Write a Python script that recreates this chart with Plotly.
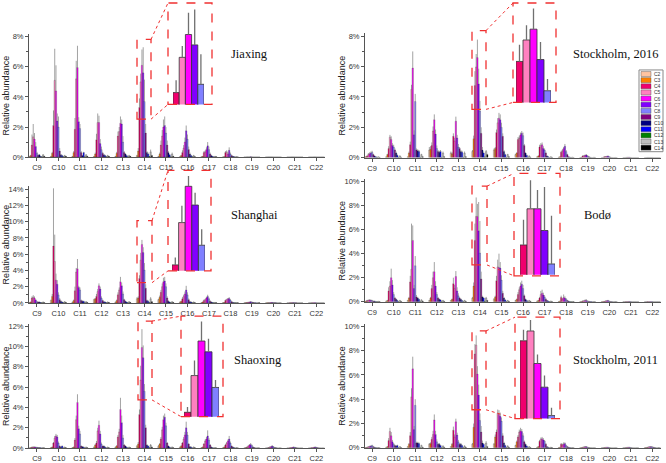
import plotly.graph_objects as go

CATEGORIES = ["C9", "C10", "C11", "C12", "C13", "C14", "C15", "C16", "C17", "C18", "C19", "C20", "C21", "C22"]
SERIES = ["C2", "C3", "C4", "C5", "C6", "C7", "C8", "C9", "C10", "C11", "C12", "C13", "C14"]
COLORS = ["#FFC4A0", "#FF8000", "#F0006E", "#FF80C0", "#FF00FF", "#8000FF", "#8080FF",
          "#800080", "#000080", "#0000FF", "#008000", "#C0C0C0", "#000000"]
INSET_SERIES = ["C4", "C5", "C6", "C7", "C8"]
INSET_CATEGORY = "C14"
Y_TITLE = "Relative abundance"

# rows = categories C9..C22, columns = series C2..C14 (% relative abundance)
JIAXING_VALUES = [
    [.05, .10, .80, 1.35, 1.20, .70, .25, .12, .15, .05, .02, .15, .05],
    [.05, .25, 2.10, 5.10, 4.40, 2.40, 2.00, .40, .15, .10, .02, .10, .05],
    [.05, .30, 1.85, 5.20, 5.95, 2.35, 1.90, .30, .10, .30, .02, .15, .05],
    [.05, .20, 1.15, 2.30, 2.30, .90, .50, .25, .15, .10, .02, .10, .05],
    [.05, .25, 1.40, 1.70, 2.25, 2.20, 1.00, .30, .20, .10, .02, .10, .05],
    [.10, .40, 3.30, 5.00, 6.10, 5.60, 3.70, 1.60, .30, .20, .05, .35, .10],
    [.05, .20, .80, 1.40, 2.00, 2.10, 1.60, .80, .30, .15, .02, .20, .05],
    [.03, .10, .30, .60, 1.00, 1.75, 1.20, .50, .20, .10, .02, .10, .03],
    [.02, .05, .30, .35, .50, .75, .50, .20, .10, .05, .01, .05, .02],
    [.01, .03, .30, .35, .20, .45, .20, .10, .05, .03, .01, .03, .01],
    [0, 0, .01, .01, .01, .02, .01, 0, 0, 0, 0, 0, 0],
    [0, 0, .01, .01, .01, .01, 0, 0, 0, 0, 0, 0, 0],
    [0, 0, 0, .01, .01, .01, 0, 0, 0, 0, 0, 0, 0],
    [0, 0, 0, 0, .01, .01, 0, 0, 0, 0, 0, 0, 0],
]
JIAXING_ERRORS = [
    [.02, .05, .70, .85, .40, .30, .10, .05, .05, .02, .01, .05, .02],
    [.02, .10, 1.00, 2.10, 1.70, .50, .70, .20, .05, .05, .01, .05, .02],
    [.02, .10, .75, 1.20, 1.45, .30, .30, .10, .05, .05, .01, .05, .02],
    [.02, .10, .40, .60, .45, .30, .20, .10, .05, .05, .01, .05, .02],
    [.02, .10, .30, .30, .45, .30, .40, .10, .05, .05, .01, .05, .02],
    [.05, .20, .60, .55, 1.05, 1.70, 1.45, .60, .10, .10, .02, .15, .05],
    [.02, .10, .30, .40, .50, .60, .40, .30, .10, .05, .01, .10, .02],
    [.01, .05, .15, .20, .30, .35, .30, .20, .10, .05, .01, .05, .01],
    [.01, .02, .10, .10, .15, .25, .20, .10, .05, .02, .01, .02, .01],
    [.01, .01, .10, .10, .10, .20, .10, .05, .02, .01, .01, .01, .01],
    [0, 0, .01, .01, .01, .01, .01, 0, 0, 0, 0, 0, 0],
    [0, 0, 0, 0, 0, 0, 0, 0, 0, 0, 0, 0, 0],
    [0, 0, 0, 0, 0, 0, 0, 0, 0, 0, 0, 0, 0],
    [0, 0, 0, 0, 0, 0, 0, 0, 0, 0, 0, 0, 0],
]

SHANGHAI_VALUES = [
    [.05, .10, .60, .70, .60, .35, .15, .10, .10, .05, .02, .10, .03],
    [.30, .80, 7.00, 5.10, 2.80, 2.30, 1.00, .40, .20, .10, .02, .15, .05],
    [.10, .30, 1.50, 3.80, 4.20, 1.90, 1.60, .30, .20, .20, .02, .15, .05],
    [.40, .50, .80, 1.40, 2.10, 1.70, .60, .30, .15, .10, .02, .10, .05],
    [.10, .30, 1.00, 1.60, 2.60, 2.10, 1.10, .40, .20, .10, .02, .15, .05],
    [.50, .60, 3.00, 5.26, 7.20, 6.20, 4.05, 1.80, .30, .20, .05, .50, .15],
    [.40, .70, 1.30, 2.00, 2.60, 2.70, 2.00, .60, .20, .10, .02, .15, .05],
    [.10, .20, .50, .80, 1.10, 1.60, 1.00, .40, .15, .10, .02, .10, .03],
    [.03, .10, .30, .40, .60, .80, .50, .20, .10, .05, .01, .05, .02],
    [.02, .05, .30, .40, .50, .55, .35, .15, .05, .03, .01, .03, .01],
    [.01, .02, .05, .08, .10, .15, .10, .05, .02, .01, 0, .02, .01],
    [0, .01, .02, .03, .04, .05, .03, .02, .01, 0, 0, .01, 0],
    [0, 0, .01, .02, .03, .03, .02, .01, 0, 0, 0, 0, 0],
    [0, 0, .01, .01, .01, .01, .01, 0, 0, 0, 0, 0, 0],
]
SHANGHAI_ERRORS = [
    [.02, .05, .20, .25, .20, .10, .05, .05, .05, .02, .01, .05, .01],
    [.10, .30, 7.10, 3.30, .80, .50, .30, .20, .10, .05, .01, .05, .02],
    [.05, .10, .50, .50, 1.20, .20, .30, .10, .10, .05, .01, .05, .02],
    [.10, .10, .30, .30, .30, .30, .20, .10, .05, .05, .01, .05, .02],
    [.05, .10, .30, .30, .60, .40, .30, .10, .05, .05, .01, .05, .02],
    [.20, .20, .40, .90, .55, .65, .85, .50, .10, .10, .02, .20, .05],
    [.10, .20, .30, .40, .50, .50, .40, .20, .10, .05, .01, .05, .02],
    [.05, .05, .20, .20, .30, .50, .30, .15, .05, .05, .01, .05, .01],
    [.01, .05, .10, .10, .15, .20, .15, .10, .05, .02, .01, .02, .01],
    [.01, .02, .10, .10, .10, .15, .10, .05, .02, .01, .01, .01, .01],
    [0, .01, .02, .03, .03, .05, .03, .02, .01, 0, 0, .01, 0],
    [0, 0, .01, .01, .02, .02, .01, .01, 0, 0, 0, 0, 0],
    [0, 0, .01, .01, .01, .01, .01, 0, 0, 0, 0, 0, 0],
    [0, 0, 0, 0, 0, 0, 0, 0, 0, 0, 0, 0, 0],
]

SHAOXING_VALUES = [
    [.02, .05, .10, .12, .12, .10, .08, .05, .05, .03, .01, .05, .02],
    [.05, .10, .50, 1.00, 1.20, 1.10, .50, .20, .10, .20, .02, .10, .03],
    [.05, .10, .80, 2.80, 4.50, 1.90, 1.40, .20, .15, .10, .02, .10, .03],
    [.10, .30, .50, 1.70, 2.25, 1.40, .40, .20, .20, .10, .02, .10, .03],
    [.10, .20, 1.10, 1.60, 3.80, 2.50, 1.00, .30, .20, .10, .02, .10, .03],
    [.20, .40, 3.30, 6.70, 9.90, 8.90, 5.60, 2.00, .30, .20, .05, .30, .10],
    [.20, .40, .90, 1.80, 2.80, 3.05, 2.20, .50, .20, .10, .02, .10, .03],
    [.10, .20, .50, .90, 1.30, 2.00, 1.30, .40, .15, .10, .02, .10, .03],
    [.05, .10, .40, .70, .90, 1.20, .80, .30, .10, .05, .01, .05, .02],
    [.03, .10, .30, .50, .70, .90, .50, .20, .10, .05, .01, .05, .02],
    [.02, .05, .10, .20, .30, .35, .25, .10, .05, .02, .01, .03, .01],
    [.01, .02, .05, .10, .15, .20, .15, .05, .03, .01, 0, .02, .01],
    [.01, .01, .03, .05, .08, .10, .08, .03, .02, .01, 0, .01, 0],
    [.01, .01, .03, .05, .08, .10, .08, .03, .02, .01, 0, .01, 0],
]
SHAOXING_ERRORS = [
    [.01, .02, .03, .03, .03, .03, .03, .02, .02, .01, .01, .02, .01],
    [.02, .05, .10, .20, .20, .20, .15, .05, .05, .05, .01, .03, .01],
    [.02, .05, .20, .40, .80, .30, .30, .05, .05, .05, .01, .03, .01],
    [.05, .10, .20, .30, .45, .30, .15, .05, .05, .05, .01, .03, .01],
    [.05, .10, .20, .30, 1.15, .70, .30, .10, .05, .05, .01, .03, .01],
    [.10, .20, .50, 1.40, 1.80, 1.20, .70, .30, .10, .05, .02, .10, .05],
    [.10, .10, .20, .30, .40, .35, .30, .10, .05, .05, .01, .05, .01],
    [.05, .10, .10, .20, .30, .60, .30, .10, .05, .05, .01, .05, .01],
    [.02, .05, .10, .15, .20, .55, .20, .10, .05, .02, .01, .02, .01],
    [.01, .05, .10, .10, .15, .30, .15, .05, .05, .02, .01, .02, .01],
    [.01, .02, .05, .05, .10, .15, .10, .05, .02, .01, .01, .01, .01],
    [.01, .01, .02, .05, .05, .10, .05, .02, .01, .01, 0, .01, 0],
    [0, .01, .01, .02, .03, .05, .03, .01, .01, 0, 0, 0, 0],
    [0, .01, .01, .02, .03, .05, .03, .01, .01, 0, 0, 0, 0],
]

STOCKHOLM2016_VALUES = [
    [.05, .05, .10, .20, .25, .30, .35, .20, .10, .05, .02, .05, .02],
    [.05, .20, .60, 1.35, 1.20, .80, .70, .50, .30, .15, .02, .10, .03],
    [.05, .30, .85, 4.50, 5.90, 1.50, 3.70, .50, .45, .40, .02, .20, .05],
    [.50, .55, .80, 1.75, 2.50, 1.55, .60, .40, .35, .40, .02, .30, .05],
    [.30, .25, 1.40, 1.10, 2.40, 1.30, .70, .60, .40, .35, .02, .30, .05],
    [.40, 1.25, 4.75, 5.98, 6.60, 4.86, 3.07, 1.60, .50, .30, .05, .40, .20],
    [.50, .60, 1.65, 2.30, 2.60, 2.50, 2.00, 1.40, .40, .20, .02, .20, .05],
    [.20, .30, 1.20, 1.30, 1.50, 1.60, 1.45, .80, .30, .15, .02, .10, .03],
    [.05, .10, .70, .80, .85, .60, .50, .30, .10, .05, .01, .05, .02],
    [.03, .05, .35, .45, .60, .75, .40, .20, .05, .03, .01, .03, .01],
    [.01, .02, .10, .12, .15, .17, .10, .05, .02, .01, 0, .02, .01],
    [0, .01, .05, .07, .08, .10, .05, .03, .01, 0, 0, .01, 0],
    [0, 0, .01, .02, .02, .02, .01, 0, 0, 0, 0, 0, 0],
    [0, 0, .01, .01, .01, .01, .01, 0, 0, 0, 0, 0, 0],
]
STOCKHOLM2016_ERRORS = [
    [.02, .02, .05, .10, .10, .10, .10, .05, .05, .02, .01, .02, .01],
    [.02, .05, .15, .15, .20, .15, .15, .10, .10, .05, .01, .05, .01],
    [.02, .10, .20, .30, 1.10, .30, .50, .10, .10, .10, .01, .05, .02],
    [.20, .20, .20, .30, .35, .30, .20, .10, .10, .10, .01, .10, .02],
    [.10, .10, .20, .20, .30, .20, .20, .10, .10, .10, .01, .10, .02],
    [.10, .20, .95, .85, 1.18, 1.00, .67, .40, .20, .10, .02, .10, .05],
    [.10, .10, .20, .30, .35, .35, .30, .20, .10, .05, .01, .05, .02],
    [.05, .05, .15, .15, .15, .15, .20, .10, .05, .05, .01, .05, .01],
    [.02, .05, .15, .15, .15, .15, .10, .10, .05, .02, .01, .02, .01],
    [.01, .02, .10, .10, .10, .15, .10, .05, .02, .01, .01, .01, .01],
    [0, .01, .05, .05, .05, .05, .05, .02, .01, 0, 0, .01, 0],
    [0, 0, .02, .02, .03, .03, .02, .01, 0, 0, 0, 0, 0],
    [0, 0, .01, .01, .01, .01, .01, 0, 0, 0, 0, 0, 0],
    [0, 0, 0, 0, 0, 0, 0, 0, 0, 0, 0, 0, 0],
]

BODO_VALUES = [
    [.02, .05, .10, .12, .15, .12, .10, .05, .05, .02, .01, .03, .01],
    [.05, .10, .90, 1.30, 2.00, 1.40, .60, .30, .20, .10, .02, .10, .03],
    [.10, .30, 1.65, 2.70, 5.10, 1.10, 3.00, .40, .30, .20, .02, .15, .05],
    [.10, .30, 1.10, 2.00, 2.50, 1.30, .60, .30, .20, .15, .02, .10, .03],
    [.10, .20, 1.50, 1.10, 2.10, .90, .50, .30, .20, .10, .02, .10, .03],
    [.30, 1.30, 5.10, 7.10, 7.10, 5.90, 4.05, 1.90, .40, .30, .05, .30, .10],
    [.20, .40, 1.75, 2.90, 2.85, 2.80, 1.80, .70, .30, .15, .02, .10, .03],
    [.10, .20, .60, 1.00, 1.30, 1.45, 1.10, .50, .20, .10, .02, .10, .03],
    [.05, .10, .30, .60, .70, .55, .40, .20, .10, .05, .01, .05, .02],
    [.02, .05, .35, .20, .35, .30, .20, .10, .05, .02, .01, .02, .01],
    [.01, .02, .05, .08, .10, .10, .05, .03, .01, .01, 0, .01, 0],
    [.01, .01, .03, .05, .08, .10, .05, .02, .01, 0, 0, .01, 0],
    [0, 0, .01, .01, .02, .02, .01, 0, 0, 0, 0, 0, 0],
    [0, 0, .01, .01, .01, .01, .01, 0, 0, 0, 0, 0, 0],
]
BODO_ERRORS = [
    [.01, .02, .05, .05, .05, .05, .05, .02, .02, .01, .01, .01, .01],
    [.02, .05, .30, .40, .75, .40, .20, .10, .05, .05, .01, .05, .01],
    [.05, .10, .50, 3.80, 1.25, .30, .80, .15, .10, .05, .01, .05, .02],
    [.05, .10, .30, .50, .80, .40, .20, .10, .05, .05, .01, .05, .01],
    [.05, .05, .50, .30, .45, .30, .20, .10, .05, .05, .01, .05, .01],
    [.10, .30, 1.40, 1.58, 1.04, 2.40, 2.67, .60, .10, .10, .02, .10, .05],
    [.10, .10, .40, .60, 1.15, .50, .40, .20, .10, .05, .01, .05, .01],
    [.05, .05, .20, .20, .30, .30, .30, .10, .05, .05, .01, .05, .01],
    [.02, .05, .10, .30, .30, .20, .15, .10, .05, .02, .01, .02, .01],
    [.01, .02, .15, .10, .25, .15, .10, .05, .02, .01, .01, .01, .01],
    [0, .01, .05, .05, .10, .10, .05, .02, .01, 0, 0, .01, 0],
    [0, .01, .02, .05, .05, .05, .02, .01, 0, 0, 0, 0, 0],
    [0, 0, .01, .01, .01, .01, .01, 0, 0, 0, 0, 0, 0],
    [0, 0, 0, 0, 0, 0, 0, 0, 0, 0, 0, 0, 0],
]

STOCKHOLM2011_VALUES = [
    [.02, .03, .05, .10, .12, .15, .20, .10, .05, .02, .01, .03, .01],
    [.05, .10, .60, 1.35, 1.00, .50, .30, .20, .15, .20, .02, .10, .03],
    [.10, .30, 1.00, 4.20, 6.50, 1.50, 3.50, .40, .40, .35, .02, .20, .05],
    [.30, .35, .70, 1.10, 2.30, 1.10, .50, .30, .30, .20, .02, .15, .05],
    [.10, .30, 1.45, .90, 2.15, 1.05, .50, .30, .30, .20, .02, .15, .05],
    [.30, 1.70, 7.73, 8.45, 6.07, 4.34, 2.26, 1.30, .40, .30, .05, .40, .10],
    [.30, .90, 1.30, 2.85, 2.75, 2.60, 2.20, 1.00, .40, .20, .02, .15, .05],
    [.20, .50, .90, 1.30, 1.40, 1.35, 1.00, .50, .30, .15, .02, .10, .03],
    [.05, .10, .55, .70, .75, .65, .55, .30, .10, .05, .01, .05, .02],
    [.02, .05, .30, .25, .30, .35, .20, .10, .05, .02, .01, .02, .01],
    [.01, .02, .05, .08, .10, .10, .05, .03, .01, .01, 0, .01, 0],
    [.01, .01, .03, .04, .05, .05, .03, .01, 0, 0, 0, .01, 0],
    [.01, .01, .03, .04, .05, .05, .03, .01, 0, 0, 0, .01, 0],
    [.02, .03, .05, .08, .10, .10, .08, .05, .02, .01, 0, .02, .01],
]
STOCKHOLM2011_ERRORS = [
    [.01, .01, .02, .03, .05, .05, .05, .03, .02, .01, .01, .01, .01],
    [.02, .05, .20, .30, .30, .15, .10, .05, .05, .05, .01, .05, .01],
    [.05, .10, .30, .70, 1.00, .30, .50, .10, .10, .10, .01, .05, .02],
    [.10, .10, .20, .30, .45, .30, .20, .10, .10, .05, .01, .05, .02],
    [.05, .10, .30, .20, .25, .20, .15, .10, .10, .05, .01, .05, .02],
    [.10, .30, .80, .80, .65, .86, .57, .50, .20, .10, .02, .15, .05],
    [.10, .20, .20, .30, .35, .30, .30, .20, .10, .05, .01, .05, .02],
    [.05, .10, .15, .20, .25, .20, .20, .10, .05, .05, .01, .05, .01],
    [.02, .05, .10, .15, .15, .15, .10, .10, .05, .02, .01, .02, .01],
    [.01, .02, .10, .10, .15, .10, .05, .05, .02, .01, .01, .01, .01],
    [0, .01, .02, .03, .05, .05, .03, .01, .01, 0, 0, .01, 0],
    [0, .01, .01, .02, .02, .02, .01, .01, 0, 0, 0, 0, 0],
    [0, .01, .01, .02, .02, .02, .01, .01, 0, 0, 0, 0, 0],
    [.01, .01, .02, .03, .05, .05, .03, .02, .01, 0, 0, .01, 0],
]

PANEL_TITLES = ["Jiaxing", "Shanghai", "Shaoxing", "Stockholm, 2016", "Bodø", "Stockholm, 2011"]
PANEL_DATA = [
    (JIAXING_VALUES, JIAXING_ERRORS),
    (SHANGHAI_VALUES, SHANGHAI_ERRORS),
    (SHAOXING_VALUES, SHAOXING_ERRORS),
    (STOCKHOLM2016_VALUES, STOCKHOLM2016_ERRORS),
    (BODO_VALUES, BODO_ERRORS),
    (STOCKHOLM2011_VALUES, STOCKHOLM2011_ERRORS),
]

# ---------------- layout (pixel geometry) ----------------
W, H = 666, 463


def PX(x):
    return x / W


def PY(y):
    return 1 - y / H


# x px [left,right], x range, y px [top,bottom], y max, title pos, inset geometry
PANELS = [
    dict(xpx=(29, 325), xr=(-0.37, 13.4), ypx=(32.2, 157.5), ymax=8.2, title=(250, 53),
         ibar=(173, 204), iypx=(1, 104), iyr=(2.73, 7.62), big=(168, 1, 212, 104), small=(137, 38, 151, 119)),
    dict(xpx=(29, 325), xr=(-0.37, 13.4), ypx=(186.7, 305.5), ymax=14.4, title=(254, 216),
         ibar=(172, 205), iypx=(171, 273), iyr=(2.68, 8.05), big=(168, 171, 211, 273), small=(137, 222, 152, 285)),
    dict(xpx=(29, 325), xr=(-0.37, 13.4), ypx=(327, 453), ymax=12.2, title=(258, 363),
         ibar=(184, 219), iypx=(319, 421), iyr=(2.9, 12.2), big=(181, 319, 223, 421), small=(138, 324, 152, 404)),
    dict(xpx=(365, 661), xr=(-0.33, 13.4), ypx=(31.7, 158), ymax=8.2, title=(615, 53),
         ibar=(516, 551), iypx=(1, 102), iyr=(2.4, 8.1), big=(513, 1, 556, 102), small=(472, 29, 486, 109)),
    dict(xpx=(365, 661), xr=(-0.33, 13.4), ypx=(179.9, 304.3), ymax=10.2, title=(597, 216),
         ibar=(520, 555), iypx=(174, 277), iyr=(3.45, 9.06), big=(514, 174, 560, 278), small=(472, 187, 487, 267)),
    dict(xpx=(365, 661), xr=(-0.33, 13.4), ypx=(326.8, 452.7), ymax=10.2, title=(615, 363),
         ibar=(520, 555), iypx=(320, 423), iyr=(2.04, 9.46), big=(515, 320, 560, 423), small=(472, 334, 486, 414)),
]

TICK_FONT = dict(family="Liberation Sans, Arial", size=7.5, color="#333333")
AXIS_COLOR = "#555555"
RED = "#F03030"

fig = go.Figure()
layout = dict(
    width=W, height=H, autosize=False,
    margin=dict(l=0, r=0, t=0, b=0),
    paper_bgcolor="white", plot_bgcolor="white",
    barmode="group", bargap=0.25, bargroupgap=0,
    showlegend=False,
    font=dict(family="Liberation Sans, Arial"),
)
annotations = []
shapes = []

ic = CATEGORIES.index(INSET_CATEGORY)
for p, (geo, (vals, errs), title) in enumerate(zip(PANELS, PANEL_DATA, PANEL_TITLES)):
    mi = 2 * p + 1
    ii = 2 * p + 2
    mx, my = f"x{mi}", f"y{mi}"
    ix, iy = f"x{ii}", f"y{ii}"

    for s, name in enumerate(SERIES):
        fig.add_trace(go.Bar(
            x=CATEGORIES, y=[row[s] for row in vals], name=name,
            marker=dict(color=COLORS[s], line=dict(color="#222222", width=0.3)),
            error_y=dict(type="data", symmetric=False, array=[row[s] for row in errs],
                         arrayminus=[0] * len(CATEGORIES), color="#8c8c8c", thickness=0.8, width=0),
            xaxis=mx, yaxis=my, showlegend=False, hoverinfo="skip",
        ))

    sidx = [SERIES.index(s) for s in INSET_SERIES]
    fig.add_trace(go.Bar(
        x=INSET_SERIES, y=[vals[ic][k] for k in sidx], width=1,
        marker=dict(color=[COLORS[k] for k in sidx], line=dict(color="#333333", width=0.8)),
        error_y=dict(type="data", symmetric=False, array=[errs[ic][k] for k in sidx],
                     arrayminus=[0] * len(sidx), color="#707070", thickness=1.3, width=0),
        xaxis=ix, yaxis=iy, showlegend=False, hoverinfo="skip",
    ))

    x0, x1 = geo["xpx"]
    yt, yb = geo["ypx"]
    layout[f"xaxis{mi}"] = dict(
        domain=[PX(x0), PX(x1)], range=list(geo["xr"]), type="category", anchor=my,
        showline=True, linecolor=AXIS_COLOR, linewidth=1, ticks="outside", ticklen=3,
        tickcolor=AXIS_COLOR, tickfont=TICK_FONT, showgrid=False, zeroline=False,
        tickmode="array", tickvals=CATEGORIES, ticktext=CATEGORIES, ticklabelstandoff=0,
    )
    layout[f"yaxis{mi}"] = dict(
        domain=[PY(yb), PY(yt)], range=[0, geo["ymax"]], anchor=mx,
        showline=True, linecolor=AXIS_COLOR, linewidth=1, ticks="outside", ticklen=3,
        tickcolor=AXIS_COLOR, tickfont=TICK_FONT, showgrid=False, zeroline=False,
        dtick=2, ticksuffix="%", minor=dict(ticks="outside", ticklen=2, dtick=1, tickcolor=AXIS_COLOR),
    )
    b0, b1 = geo["ibar"]
    it, ib = geo["iypx"]
    layout[f"xaxis{ii}"] = dict(domain=[PX(b0), PX(b1)], range=[-0.5, 4.5], type="category",
                                anchor=iy, visible=False)
    layout[f"yaxis{ii}"] = dict(domain=[PY(ib), PY(it)], range=list(geo["iyr"]), anchor=ix,
                                visible=False)

    # y-axis title
    xt = x0 - 23
    annotations.append(dict(text=Y_TITLE, x=PX(xt), y=PY((yt + yb) / 2), xref="paper", yref="paper",
                            textangle=-90, showarrow=False, xanchor="center", yanchor="middle",
                            font=dict(family="Liberation Sans, Arial", size=9, color="#222222")))
    tx, ty = geo["title"]
    annotations.append(dict(text=title, x=PX(tx), y=PY(ty), xref="paper", yref="paper",
                            showarrow=False, xanchor="center", yanchor="middle",
                            font=dict(family="Liberation Serif, Times New Roman", size=12.5, color="#111111")))

    bx0, by0, bx1, by1 = geo["big"]
    sx0, sy0, sx1, sy1 = geo["small"]
    for (a0, c0, a1, c1) in [(bx0, by0, bx1, by1), (sx0, sy0, sx1, sy1)]:
        shapes.append(dict(type="rect", xref="paper", yref="paper", x0=PX(a0), x1=PX(a1),
                           y0=PY(c1), y1=PY(c0), line=dict(color=RED, width=1.3, dash="dash")))
    shapes.append(dict(type="line", xref="paper", yref="paper", x0=PX(sx1), y0=PY(sy0),
                       x1=PX(bx0), y1=PY(by0), line=dict(color=RED, width=1, dash="dot")))
    shapes.append(dict(type="line", xref="paper", yref="paper", x0=PX(sx1), y0=PY(sy1),
                       x1=PX(bx0), y1=PY(by1), line=dict(color=RED, width=1, dash="dot")))

# manual legend (Stockholm 2016 panel)
LX0, LY0, LX1, LY1 = 639, 69, 663, 152
shapes.append(dict(type="rect", xref="paper", yref="paper", x0=PX(LX0), x1=PX(LX1),
                   y0=PY(LY1), y1=PY(LY0), line=dict(color="#888888", width=1), fillcolor="white",
                   layer="above"))
step = (LY1 - LY0 - 2) / len(SERIES)
for s, name in enumerate(SERIES):
    yc = LY0 + 1 + step * (s + 0.5)
    shapes.append(dict(type="rect", xref="paper", yref="paper", x0=PX(641), x1=PX(651),
                       y0=PY(yc + step / 2 - 0.6), y1=PY(yc - step / 2 + 0.6),
                       fillcolor=COLORS[s], line=dict(color="#444444", width=0.4), layer="above"))
    annotations.append(dict(text=name, x=PX(652), y=PY(yc), xref="paper", yref="paper",
                            showarrow=False, xanchor="left", yanchor="middle",
                            font=dict(family="Liberation Sans, Arial", size=5, color="#333333")))

layout["annotations"] = annotations
layout["shapes"] = shapes
fig.update_layout(**layout)
fig.write_html("out.html", config={"displayModeBar": False},
               post_script="document.body.style.margin='0px';document.body.style.overflow='hidden';")
